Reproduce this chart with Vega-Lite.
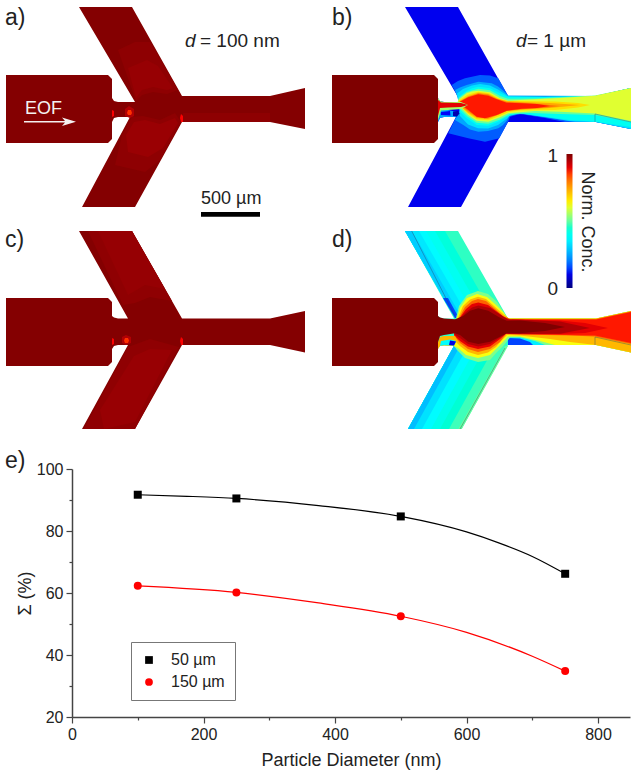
{
"$schema":"https://vega.github.io/schema/vega-lite/v6.json",
"width":637,"height":773,"padding":0,"autosize":{"type":"none"},
"background":"white",
"config":{"view":{"stroke":null},"font":"Liberation Sans"},
"datasets":{
"field":[
{"type":"Feature","properties":{"panel":"a","conc":0.995},"geometry":{"type":"Polygon","coordinates":[[[6,75],[108,75],[112,79],[112,98],[114,101],[118,102],[135,102],[79,7],[132,7],[182,96],[270,96],[305,88],[305,129],[270,122],[182,122],[135,207],[82,207],[130,117],[118,117],[114,118],[112,122],[112,139],[108,143],[6,143],[6,75]]]}},
{"type":"Feature","properties":{"panel":"a","conc":0.985},"geometry":{"type":"Polygon","coordinates":[[[118,50],[135,42],[150,42],[162,62],[178,90],[167,94],[153,92],[142,95],[136,101],[118,50]]]}},
{"type":"Feature","properties":{"panel":"a","conc":0.975},"geometry":{"type":"Polygon","coordinates":[[[128,68],[147,60],[158,66],[173,88],[167,90],[153,87],[142,90],[136,98],[128,68]]]}},
{"type":"Feature","properties":{"panel":"a","conc":0.985},"geometry":{"type":"Polygon","coordinates":[[[132,117],[143,116],[160,120],[175,113],[181,122],[160,160],[145,172],[115,165],[122,135],[132,117]]]}},
{"type":"Feature","properties":{"panel":"a","conc":0.972},"geometry":{"type":"Polygon","coordinates":[[[134,122],[145,120],[160,124],[175,118],[178,123],[163,148],[148,157],[128,152],[126,135],[134,122]]]}},
{"type":"Feature","properties":{"panel":"a","conc":0.985},"geometry":{"type":"Polygon","coordinates":[[[183,113],[270,113],[270,122],[182,122],[183,113]]]}},
{"type":"Feature","properties":{"panel":"a","conc":0.95},"geometry":{"type":"Polygon","coordinates":[[[125,109],[129,106],[134,109],[134,116],[130,118],[125,116],[125,109]]]}},
{"type":"Feature","properties":{"panel":"a","conc":0.86},"geometry":{"type":"Polygon","coordinates":[[[128,110],[131,110],[132,113],[131,115],[128,115],[127,113],[128,110]]]}},
{"type":"Feature","properties":{"panel":"a","conc":0.88},"geometry":{"type":"Polygon","coordinates":[[[112,110],[114,111],[114,116],[112,117],[112,110]]]}},
{"type":"Feature","properties":{"panel":"a","conc":0.88},"geometry":{"type":"Polygon","coordinates":[[[181,114],[183,116],[183,122],[181,122],[180,118],[181,114]]]}},

{"type":"Feature","properties":{"panel":"b","conc":0.11},"geometry":{"type":"Polygon","coordinates":[[[438,98],[440,101],[444,102],[461,102],[405,7],[458,7],[508,96],[596,96],[631,88],[631,129],[596,122],[508,122],[461,207],[408,207],[456,117],[444,117],[440,118],[438,122],[438,98]]]}},
{"type":"Feature","properties":{"panel":"b","conc":1},"geometry":{"type":"Polygon","coordinates":[[[332,75],[434,75],[438,79],[438,139],[434,143],[332,143],[332,75]]]}},
{"type":"Feature","properties":{"panel":"b","conc":0.17},"geometry":{"type":"Polygon","coordinates":[[[451.7,85],[458,81],[465,78.3],[480,75],[490,75.5],[498.3,78.3],[508.3,96],[596,96],[631,88],[631,129],[596,122],[565,122],[545,118],[520,114],[510,116.7],[508,122],[499.3,138.3],[485,141.7],[468.3,138.3],[448.3,133.3],[456,117],[461,110],[461,102],[451.7,85]]]}},
{"type":"Feature","properties":{"panel":"b","conc":0.25},"geometry":{"type":"Polygon","coordinates":[[[455,90],[460,87.5],[466.7,85],[478.3,81.7],[491.7,83.3],[498,86.5],[503.3,90.7],[508.3,95.5],[596,96],[631,88],[631,129],[596,122],[575,122],[550,118],[525,114],[510,114.5],[506.7,120.7],[503,125],[498.3,128.3],[488,131],[478.3,131.7],[470,129.5],[463.3,125],[455,120],[461,108],[455,90]]]}},
{"type":"Feature","properties":{"panel":"b","conc":0.33},"geometry":{"type":"Polygon","coordinates":[[[457,93.5],[463,89],[472,85.5],[480,84],[490,85.5],[498,89.5],[505,94],[508,96.3],[545,97],[596,96],[631,88],[631,129],[596,122],[570,121],[545,117],[520,113.5],[511,114.5],[507,118.5],[498,125],[488,128.5],[478,128.3],[468,124.5],[460,116],[459,106],[457,93.5]]]}},
{"type":"Feature","properties":{"panel":"b","conc":0.4},"geometry":{"type":"Polygon","coordinates":[[[459,96.7],[466.7,90.7],[472,88.3],[478.3,86.7],[490,88.3],[500,93.3],[507.7,96.7],[545,97],[596,96],[631,88],[631,127],[596,121.7],[570,120],[545,116.7],[520,113.3],[513,115],[506.7,116.7],[498.3,121.7],[488.3,125.7],[476.7,125],[466.7,118.3],[460,111.7],[459,96.7]]]}},
{"type":"Feature","properties":{"panel":"b","conc":0.5},"geometry":{"type":"Polygon","coordinates":[[[458.7,98],[466.7,92],[478.3,88.7],[490,90.3],[500,96],[508,98.7],[535,98.5],[595,95.5],[631,88],[631,122],[595,115],[560,114],[530,113],[510,114],[500,119.5],[488.3,123.7],[476.7,122.8],[467.5,116.6],[461,110],[457,105],[458.7,98]]]}},
{"type":"Feature","properties":{"panel":"b","conc":0.6},"geometry":{"type":"Polygon","coordinates":[[[458.3,100],[466.7,93.3],[472,91.5],[478.3,90.7],[490,92.3],[500,98.3],[508.3,100.7],[520,100],[560,98],[595,95.7],[631,88],[631,121],[595,113.5],[560,111.7],[535,111],[508.3,113.3],[500,117.3],[488.3,121.7],[476.7,120.7],[468.3,115],[461.7,108.3],[456.7,106],[458.3,100]]]}},
{"type":"Feature","properties":{"panel":"b","conc":0.67},"geometry":{"type":"Polygon","coordinates":[[[459,100.5],[467.5,94.7],[478.3,91.8],[489,93.2],[499,98.5],[507.5,101],[520,101],[555,101.5],[578,103],[590,105],[578,107.5],[555,110],[520,110.5],[508,112.2],[499.5,116],[488.3,120.3],[476.7,119.3],[468,113.7],[461.7,107.8],[457,105.5],[459,100.5]]]}},
{"type":"Feature","properties":{"panel":"b","conc":0.74},"geometry":{"type":"Polygon","coordinates":[[[460,101],[468.3,96],[478.3,92.7],[488.3,94],[497.7,98.7],[506.7,101.3],[520,102],[550,103],[580,105],[550,108],[520,109.7],[507,111],[499,114.5],[488.3,119],[477,118],[468,112.5],[461.7,107.3],[457,105],[460,101]]]}},
{"type":"Feature","properties":{"panel":"b","conc":0.8},"geometry":{"type":"Polygon","coordinates":[[[460,101.3],[468.3,96.7],[478.3,93.5],[488.3,94.8],[497,99],[506.7,102],[521,102.7],[545,104.5],[560,106],[545,107.7],[521,109.2],[507,110.8],[498,114.7],[487,118.6],[477,117.3],[468.3,111.3],[461.7,106],[458,105],[460,101.3]]]}},
{"type":"Feature","properties":{"panel":"b","conc":0.87},"geometry":{"type":"Polygon","coordinates":[[[460,101.7],[468.3,97.3],[478.3,94.3],[488.3,95.7],[496.7,99.3],[506.7,102.7],[521.7,103.3],[537,104],[550,106],[537,108],[521.7,108.7],[506.7,110.7],[496.7,115],[485,118.3],[476.7,116.7],[468.3,110],[461.7,105],[460,101.7]]]}},
{"type":"Feature","properties":{"panel":"b","conc":0.25},"geometry":{"type":"Polygon","coordinates":[[[438,122],[440,118],[444,117],[456,117],[458,112],[445,109.5],[441,110],[438,116],[438,122]]]}},
{"type":"Feature","properties":{"panel":"b","conc":0.55},"geometry":{"type":"Polygon","coordinates":[[[438,98],[440,101],[444,102],[461,102],[468,105],[461,109],[448,110],[441,110.5],[438,120],[438,98]]]}},
{"type":"Feature","properties":{"panel":"b","conc":0.9},"geometry":{"type":"Polygon","coordinates":[[[438,100],[441,102.5],[461,103],[468,105],[461,107],[448,107.5],[440,108],[438,116],[438,100]]]}},
{"type":"Feature","properties":{"panel":"b","conc":0.12},"geometry":{"type":"Polygon","coordinates":[[[441,112],[450,111],[450.5,115.5],[441,115],[441,112]]]}},
{"type":"Feature","properties":{"panel":"b","conc":0.05},"geometry":{"type":"Polygon","coordinates":[[[453,111.5],[458,111],[459.5,113.5],[457,116.5],[453,116],[453,111.5]]]}},

{"type":"Feature","properties":{"panel":"c","conc":0.995},"geometry":{"type":"Polygon","coordinates":[[[6,298],[108,298],[112,302],[112,316],[114,317.5],[118,318.5],[128,318.5],[79,231],[132,231],[182,318.5],[270,318.5],[305,311],[305,352.5],[270,345],[182,345],[135,429],[82,429],[128,345],[118,345],[114,346],[112,349],[112,362],[108,366],[6,366],[6,298]]]}},
{"type":"Feature","properties":{"panel":"c","conc":0.983},"geometry":{"type":"Polygon","coordinates":[[[88,231],[132,231],[172,301],[150,297],[135,303],[123,305],[88,231]]]}},
{"type":"Feature","properties":{"panel":"c","conc":0.976},"geometry":{"type":"Polygon","coordinates":[[[98,231],[132,231],[165,289],[145,285],[128,295],[98,231]]]}},
{"type":"Feature","properties":{"panel":"c","conc":0.983},"geometry":{"type":"Polygon","coordinates":[[[128,347],[150,339],[179,347],[135,429],[84,429],[128,347]]]}},
{"type":"Feature","properties":{"panel":"c","conc":0.974},"geometry":{"type":"Polygon","coordinates":[[[134,356],[150,349],[172,350],[135,422],[104,429],[100,410],[134,356]]]}},
{"type":"Feature","properties":{"panel":"c","conc":0.95},"geometry":{"type":"Polygon","coordinates":[[[122,337],[126,335],[131,337],[131,343],[126,345],[122,343],[122,337]]]}},
{"type":"Feature","properties":{"panel":"c","conc":0.86},"geometry":{"type":"Polygon","coordinates":[[[125,338],[128,338],[129,340.5],[128,343],[125,343],[124,340.5],[125,338]]]}},
{"type":"Feature","properties":{"panel":"c","conc":0.88},"geometry":{"type":"Polygon","coordinates":[[[112,338],[114,339],[114,344],[112,345],[112,338]]]}},
{"type":"Feature","properties":{"panel":"c","conc":0.88},"geometry":{"type":"Polygon","coordinates":[[[181,337],[183,339],[183,345],[181,345],[180,341],[181,337]]]}},

{"type":"Feature","properties":{"panel":"d","conc":0.46},"geometry":{"type":"Polygon","coordinates":[[[438,302],[438,316],[440,317.5],[444,318.5],[454,318.5],[405,231],[458,231],[508,318.5],[596,318.5],[631,311],[631,352.5],[596,345],[508,345],[461.7,429],[408,429],[454,346],[444,345.5],[440,346],[438,349],[438,302]]]}},
{"type":"Feature","properties":{"panel":"d","conc":0.43},"geometry":{"type":"Polygon","coordinates":[[[405,231],[445,231],[495,318],[455,318],[405,231]]]}},
{"type":"Feature","properties":{"panel":"d","conc":0.4},"geometry":{"type":"Polygon","coordinates":[[[405,231],[435,231],[485,318],[455,318],[405,231]]]}},
{"type":"Feature","properties":{"panel":"d","conc":0.37},"geometry":{"type":"Polygon","coordinates":[[[405,231],[426,231],[476,318],[455,318],[405,231]]]}},
{"type":"Feature","properties":{"panel":"d","conc":0.34},"geometry":{"type":"Polygon","coordinates":[[[405,231],[419,231],[469,318],[455,318],[405,231]]]}},
{"type":"Feature","properties":{"panel":"d","conc":0.3},"geometry":{"type":"Polygon","coordinates":[[[405,231],[412,231],[462,318],[455,318],[405,231]]]}},
{"type":"Feature","properties":{"panel":"d","conc":0.15},"geometry":{"type":"Polygon","coordinates":[[[443,298],[448,298],[459,318],[455,318],[443,298]]]}},
{"type":"Feature","properties":{"panel":"d","conc":0.5},"geometry":{"type":"Polygon","coordinates":[[[505,346],[508,346],[461.7,429],[458,429],[505,346]]]}},
{"type":"Feature","properties":{"panel":"d","conc":0.47},"geometry":{"type":"Polygon","coordinates":[[[454,346],[505,346],[458,429],[408,429],[454,346]]]}},
{"type":"Feature","properties":{"panel":"d","conc":0.44},"geometry":{"type":"Polygon","coordinates":[[[454,346],[495,346],[449,429],[408,429],[454,346]]]}},
{"type":"Feature","properties":{"panel":"d","conc":0.41},"geometry":{"type":"Polygon","coordinates":[[[454,346],[486,346],[440,429],[408,429],[454,346]]]}},
{"type":"Feature","properties":{"panel":"d","conc":0.37},"geometry":{"type":"Polygon","coordinates":[[[454,346],[477,346],[431,429],[408,429],[454,346]]]}},
{"type":"Feature","properties":{"panel":"d","conc":0.33},"geometry":{"type":"Polygon","coordinates":[[[454,346],[468,346],[422,429],[408,429],[454,346]]]}},
{"type":"Feature","properties":{"panel":"d","conc":0.28},"geometry":{"type":"Polygon","coordinates":[[[454,346],[460,346],[414,429],[408,429],[454,346]]]}},
{"type":"Feature","properties":{"panel":"d","conc":0.35},"geometry":{"type":"Polygon","coordinates":[[[507,337],[520,337],[535,341],[550,345],[508,345],[507,337]]]}},
{"type":"Feature","properties":{"panel":"d","conc":0.15},"geometry":{"type":"Polygon","coordinates":[[[508,338],[520,338.5],[530,342],[533,345],[508,345],[508,338]]]}},
{"type":"Feature","properties":{"panel":"d","conc":0.52},"geometry":{"type":"Polygon","coordinates":[[[456,318],[459,306],[467,295],[478,291],[488,294],[497,302],[508,318.5],[596,318.5],[631,311],[631,352.5],[596,345],[545,345],[535,341],[520,337.5],[510,337.5],[504,345],[497,352],[490,360],[478,362],[465,358],[457,350],[454,346],[454,340],[456,318]]]}},
{"type":"Feature","properties":{"panel":"d","conc":0.62},"geometry":{"type":"Polygon","coordinates":[[[457,318],[460,308],[466.7,298.3],[477,294],[487,297],[495,304],[503,312],[508,318.5],[596,318.5],[631,311],[631,352.5],[596,345],[555,345],[540,341],[520,336.5],[508,336.5],[503,342],[498,347],[490,355],[478,358],[466,355],[458,348],[454,346],[454,330],[457,318]]]}},
{"type":"Feature","properties":{"panel":"d","conc":0.72},"geometry":{"type":"Polygon","coordinates":[[[458,318],[463,306],[470,299.5],[478,296.7],[486,299],[494,306],[503,314],[509,318.5],[596,318.5],[631,311],[631,352.5],[596,345],[570,342],[550,339],[520,335.5],[507,335],[501,341],[496,347],[488,352.5],[478,355],[468,352],[460,346],[454,340],[458,318]]]}},
{"type":"Feature","properties":{"panel":"d","conc":0.82},"geometry":{"type":"Polygon","coordinates":[[[459,318],[465,307],[472,301],[478,299],[486,301],[494,308],[503,316],[510,319],[596,319],[631,311.5],[631,344],[595,336.5],[570,335.5],[520,334.5],[506,334],[500,342],[490,349],[478,352],[468,349],[460,343],[454,336],[459,318]]]}},
{"type":"Feature","properties":{"panel":"d","conc":0.87},"geometry":{"type":"Polygon","coordinates":[[[512,319.5],[596,319.5],[631,312],[631,343],[595,335.5],[520,334.3],[508,334],[512,319.5]]]}},
{"type":"Feature","properties":{"panel":"d","conc":0.9},"geometry":{"type":"Polygon","coordinates":[[[459,319],[466,309],[472,304],[478.3,302.5],[488,305],[496,311],[504,317],[510,319.5],[560,320.5],[585,323],[608,328],[585,333],[560,334],[520,334],[506,333.8],[500,339],[490,346.5],[478,349],[468,346.5],[460,341],[454,335],[459,319]]]}},
{"type":"Feature","properties":{"panel":"d","conc":0.95},"geometry":{"type":"Polygon","coordinates":[[[459,319],[466,312],[472,307.5],[478.3,305.5],[490,308],[500,314.5],[508,319.5],[520,319.8],[560,321.5],[590,328],[560,333.8],[520,334],[506,333.6],[500,337.5],[490,344],[478.3,346.5],[468,344],[460,338],[454,334],[459,319]]]}},
{"type":"Feature","properties":{"panel":"d","conc":0.72},"geometry":{"type":"Polygon","coordinates":[[[438,342],[440,337],[444,336],[455,336],[457,340],[454,346],[444,345.5],[440,346],[438,349],[438,342]]]}},
{"type":"Feature","properties":{"panel":"d","conc":1},"geometry":{"type":"Polygon","coordinates":[[[332,298],[434,298],[438,302],[438,316],[440,317.5],[444,318.5],[455,319.3],[463.3,316],[470,310.7],[478.3,308.3],[488.3,310.7],[498.3,316.7],[506.7,320.7],[520,320.5],[545,323],[565,327],[545,331],[520,333.3],[506.7,333.3],[500,336.7],[490,341.7],[478.3,344],[468.3,341.7],[460,335],[455,333.3],[444,335],[440,336],[438,342],[438,362],[434,366],[332,366],[332,298]]]}},
{"type":"Feature","properties":{"panel":"d","conc":0.38},"geometry":{"type":"Polygon","coordinates":[[[441,341],[450,339.5],[456,341],[454,345.5],[444,345],[440,346],[441,341]]]}},
{"type":"Feature","properties":{"panel":"d","conc":0.1},"geometry":{"type":"Polygon","coordinates":[[[450,340.5],[456,341.5],[454,345.5],[449,345],[450,340.5]]]}}
],
"edges":[
{"type":"Feature","properties":{"panel":"b"},"geometry":{"type":"LineString","coordinates":[[595,122],[595,114],[631,122]]}},
{"type":"Feature","properties":{"panel":"d"},"geometry":{"type":"LineString","coordinates":[[595,345],[595,337],[631,345]]}},
{"type":"Feature","properties":{"panel":"d"},"geometry":{"type":"LineString","coordinates":[[411.7,231],[455,316]]}},
{"type":"Feature","properties":{"panel":"d"},"geometry":{"type":"LineString","coordinates":[[505,348],[460,429]]}}
]
},
"layer":[
{"data":{"name":"field"},"mark":{"type":"geoshape","stroke":null},
 "projection":{"type":"identity","scale":1,"translate":[0,0]},
 "encoding":{"fill":{"field":"properties.conc","type":"quantitative",
   "scale":{"domain":[0,0.125,0.375,0.625,0.875,1],"range":["#00007f","#0000ff","#00ffff","#ffff00","#ff0000","#7f0000"]},
   "legend":{"orient":"none","legendX":566.5,"legendY":154,"title":null,"values":[0,1],"gradientLength":134,"gradientThickness":6,"gradientStrokeWidth":0,"labelExpr":"''","padding":0}}}},
{"data":{"name":"edges"},"mark":{"type":"geoshape","filled":false,"stroke":"#274a6a","strokeWidth":0.6,"strokeOpacity":0.7},
 "projection":{"type":"identity","scale":1,"translate":[0,0]}},
{"data":{"values":[{"type":"Feature","properties":{"item":"scale bar"},"geometry":{"type":"Polygon","coordinates":[[[201,212],[260,212],[260,216.7],[201,216.7],[201,212]]]}}]},
 "mark":{"type":"geoshape","fill":"#000000","stroke":null},
 "projection":{"type":"identity","scale":1,"translate":[0,0]}},
{"data":{"values":[{"type":"Feature","properties":{"item":"EOF arrow"},"geometry":{"type":"Polygon","coordinates":[[[24,121],[65,121],[62,117.5],[76,121.7],[62,126],[65,122.4],[24,122.4],[24,121]]]}}]},
 "mark":{"type":"geoshape","fill":"#f4f0f0","stroke":null},
 "projection":{"type":"identity","scale":1,"translate":[0,0]}},
{"data":{"values":[{"lon":5,"lat":25,"t":"a)"},{"lon":332,"lat":25,"t":"b)"},{"lon":5,"lat":247,"t":"c)"},{"lon":332,"lat":247,"t":"d)"},{"lon":5,"lat":468,"t":"e)"}]},
 "mark":{"type":"text","align":"left","baseline":"alphabetic","fontSize":23,"color":"#222"},
 "projection":{"type":"identity","scale":1,"translate":[0,0]},
 "encoding":{"longitude":{"field":"lon","type":"quantitative"},"latitude":{"field":"lat","type":"quantitative"},"text":{"field":"t"}}},
{"data":{"values":[{"lon":185,"lat":47,"t":"d"},{"lon":516,"lat":47,"t":"d"}]},
 "mark":{"type":"text","align":"left","baseline":"alphabetic","fontSize":19,"fontStyle":"italic","color":"#222"},
 "projection":{"type":"identity","scale":1,"translate":[0,0]},
 "encoding":{"longitude":{"field":"lon","type":"quantitative"},"latitude":{"field":"lat","type":"quantitative"},"text":{"field":"t"}}},
{"data":{"values":[{"lon":200,"lat":47,"t":"= 100 nm"},{"lon":527,"lat":47,"t":"= 1 µm"}]},
 "mark":{"type":"text","align":"left","baseline":"alphabetic","fontSize":19,"color":"#222"},
 "projection":{"type":"identity","scale":1,"translate":[0,0]},
 "encoding":{"longitude":{"field":"lon","type":"quantitative"},"latitude":{"field":"lat","type":"quantitative"},"text":{"field":"t"}}},
{"data":{"values":[{"lon":201,"lat":204,"t":"500 µm"}]},
 "mark":{"type":"text","align":"left","baseline":"alphabetic","fontSize":18,"color":"#222"},
 "projection":{"type":"identity","scale":1,"translate":[0,0]},
 "encoding":{"longitude":{"field":"lon","type":"quantitative"},"latitude":{"field":"lat","type":"quantitative"},"text":{"field":"t"}}},
{"data":{"values":[{"lon":558,"lat":162,"t":"1"},{"lon":558,"lat":295,"t":"0"}]},
 "mark":{"type":"text","align":"right","baseline":"alphabetic","fontSize":19,"color":"#222"},
 "projection":{"type":"identity","scale":1,"translate":[0,0]},
 "encoding":{"longitude":{"field":"lon","type":"quantitative"},"latitude":{"field":"lat","type":"quantitative"},"text":{"field":"t"}}},
{"data":{"values":[{"lon":25,"lat":114,"t":"EOF"}]},
 "mark":{"type":"text","align":"left","baseline":"alphabetic","fontSize":18,"color":"#f4f0f0"},
 "projection":{"type":"identity","scale":1,"translate":[0,0]},
 "encoding":{"longitude":{"field":"lon","type":"quantitative"},"latitude":{"field":"lat","type":"quantitative"},"text":{"field":"t"}}},
{"data":{"values":[{"lon":587,"lat":222,"t":"Norm. Conc."}]},
 "mark":{"type":"text","align":"center","baseline":"middle","fontSize":18,"angle":90,"color":"#222"},
 "projection":{"type":"identity","scale":1,"translate":[0,0]},
 "encoding":{"longitude":{"field":"lon","type":"quantitative"},"latitude":{"field":"lat","type":"quantitative"},"text":{"field":"t"}}},
{"data":{"values":[
 {"d":100,"s":91.7,"w":"50 µm"},{"d":175,"s":91.2,"w":"50 µm"},{"d":250,"s":90.5,"w":"50 µm"},{"d":375,"s":88.2,"w":"50 µm"},{"d":500,"s":84.7,"w":"50 µm"},{"d":600,"s":79.7,"w":"50 µm"},{"d":650,"s":76.1,"w":"50 µm"},{"d":700,"s":71.8,"w":"50 µm"},{"d":750,"s":66.2,"w":"50 µm"},
 {"d":100,"s":62.3,"w":"150 µm"},{"d":250,"s":60.2,"w":"150 µm"},{"d":375,"s":56.8,"w":"150 µm"},{"d":500,"s":52.5,"w":"150 µm"},{"d":600,"s":47.3,"w":"150 µm"},{"d":700,"s":39.6,"w":"150 µm"},{"d":750,"s":34.8,"w":"150 µm"}]},
 "mark":{"type":"line","interpolate":"monotone","strokeWidth":1.2},
 "encoding":{
  "x":{"field":"d","type":"quantitative","scale":{"domain":[0,848.6],"range":[72,630],"nice":false,"zero":false},
   "axis":{"orient":"bottom","offset":-56,"values":[0,100,200,300,400,500,600,700,800],"grid":false,"title":"Particle Diameter (nm)","titleFontSize":18,"titleFontWeight":"normal","titleColor":"#222","titleY":34,"labelFontSize":16,"labelColor":"#222","labelPadding":3,"labelFlush":false,"labelExpr":"datum.value % 200 ? '' : datum.label","labelOverlap":false,"domainColor":"#444","domainWidth":1.5,"tickColor":"#444","tickWidth":1.2,"tickSize":{"condition":{"test":"datum.value % 200 !== 0","value":3},"value":6}}},
  "y":{"field":"s","type":"quantitative","scale":{"domain":[20,100],"range":[717,469],"nice":false,"zero":false},
   "axis":{"orient":"left","offset":-72,"values":[20,30,40,50,60,70,80,90,100],"grid":false,"title":"Σ (%)","titleFontSize":18,"titleFontWeight":"normal","titleColor":"#222","titleX":-38,"labelFontSize":16,"labelColor":"#222","labelPadding":3,"labelFlush":false,"labelExpr":"datum.value % 20 ? '' : datum.label","labelOverlap":false,"domainColor":"#444","domainWidth":1.5,"tickColor":"#444","tickWidth":1.2,"tickSize":{"condition":{"test":"datum.value % 20 !== 0","value":3},"value":6}}},
  "stroke":{"field":"w","type":"nominal","scale":{"domain":["150 µm","50 µm"],"range":["#ff0000","#000000"]},"legend":null}
 }},
{"data":{"values":[
 {"d":100,"s":91.7,"w":"50 µm"},{"d":250,"s":90.5,"w":"50 µm"},{"d":500,"s":84.7,"w":"50 µm"},{"d":750,"s":66.2,"w":"50 µm"},
 {"d":100,"s":62.3,"w":"150 µm"},{"d":250,"s":60.2,"w":"150 µm"},{"d":500,"s":52.5,"w":"150 µm"},{"d":750,"s":34.8,"w":"150 µm"}]},
 "mark":{"type":"point","filled":true,"size":64,"opacity":1},
 "encoding":{
  "x":{"field":"d","type":"quantitative"},
  "y":{"field":"s","type":"quantitative"},
  "color":{"field":"w","type":"nominal","scale":{"domain":["50 µm","150 µm"],"range":["#000000","#ff0000"]},
   "legend":{"orient":"none","legendX":131,"legendY":642,"title":null,"strokeColor":"#777","fillColor":"white","padding":10,"labelFontSize":16,"labelColor":"#222","labelOffset":14,"rowPadding":6,"symbolSize":60,"labelFont":"Liberation Sans"}},
  "shape":{"field":"w","type":"nominal","scale":{"domain":["50 µm","150 µm"],"range":["square","circle"]},
   "legend":{"orient":"none","legendX":131,"legendY":642,"title":null,"strokeColor":"#777","fillColor":"white","padding":10,"labelFontSize":16,"labelColor":"#222","labelOffset":14,"rowPadding":6,"symbolSize":60,"labelFont":"Liberation Sans"}}
 }}
]
}
